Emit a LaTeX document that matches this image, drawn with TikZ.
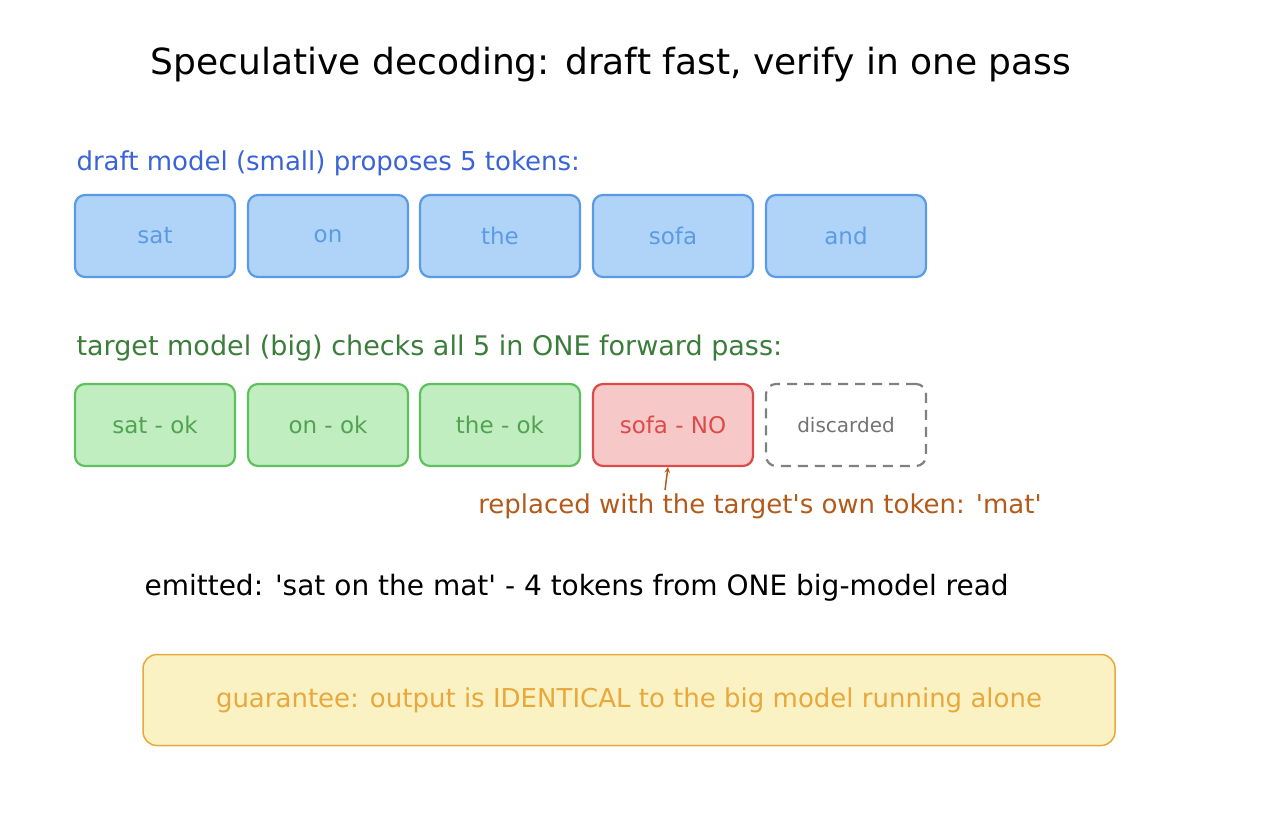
\documentclass[tikz,border=0pt]{standalone}
\usepackage{fontspec}
\setmainfont{DejaVu Sans}
\usetikzlibrary{positioning}
\definecolor{blueln}{HTML}{5B9BE6}
\definecolor{bluefl}{HTML}{B0D4F8}
\definecolor{bluetx}{HTML}{3A63D8}
\definecolor{greenln}{HTML}{5FC05F}
\definecolor{greenfl}{HTML}{C0EEC0}
\definecolor{greentx}{HTML}{3B7D3B}
\definecolor{redln}{HTML}{DE4A4A}
\definecolor{redfl}{HTML}{F7C8C8}
\definecolor{brown}{HTML}{B35A1A}
\definecolor{yellowln}{HTML}{E8A83C}
\definecolor{yellowfl}{HTML}{FBF2C4}
\newcommand{\sq}{\textquotesingle}
\tikzset{
  tok/.style={draw, line width=2.2pt, rounded corners=10pt, minimum width=160pt,
    minimum height=82pt, font=\fontsize{23}{27}\selectfont},
  lbl/.style={anchor=west, font=\fontsize{26}{30}\selectfont}
}
\begin{document}
\begin{tikzpicture}[x=1pt,y=1pt]
  \useasboundingbox (0,0) rectangle (1262,-812);

  \node (title) at (611,-65) {\fontsize{36}{42}\selectfont Speculative decoding: draft fast, verify in one pass};

  %% Draft row
  \node[lbl, text=bluetx] (draftlbl) at (73,-163) {draft model (small) proposes 5 tokens:};
  \foreach \x/\n/\t in {155/d1/sat, 328/d2/on, 500/d3/the, 673/d4/sofa, 846/d5/and}{
    \node[tok, draw=blueln, fill=bluefl, text=blueln] (\n) at (\x,-236) {\t};
  }

  %% Target row
  \node[lbl, text=greentx, font=\fontsize{27}{31}\selectfont] (targetlbl) at (73,-348) {target model (big) checks all 5 in ONE forward pass:};
  \foreach \x/\n/\t in {155/v1/sat - ok, 328/v2/on - ok, 500/v3/the - ok}{
    \node[tok, draw=greenln, fill=greenfl, text=greenln!85!black] (\n) at (\x,-425) {\t};
  }
  \node[tok, draw=redln, fill=redfl, text=redln] (v4) at (673,-425) {sofa - NO};
  \node[tok, draw=gray, dashed, dash pattern=on 10pt off 7pt, text=gray!90!black,
    font=\fontsize{20}{24}\selectfont] (v5) at (846,-425) {discarded};

  \node[text=brown, font=\fontsize{26}{30}\selectfont] (repl) at (760,-506)
    {replaced with the target\sq s own token: \sq mat\sq};
  \draw[brown, line width=1.5pt, -stealth] (665,-490) -- (v4.south -| 668,0);

  \node[lbl, font=\fontsize{28}{32}\selectfont] (emit) at (141,-588) {emitted: \sq sat on the mat\sq\ - 4 tokens from ONE big-model read};

  \node[draw=yellowln, fill=yellowfl, line width=1.5pt, rounded corners=14pt,
    minimum width=972pt, minimum height=91pt, text=yellowln,
    font=\fontsize{26}{30}\selectfont] (guar) at (629,-700)
    {guarantee: output is IDENTICAL to the big model running alone};
\end{tikzpicture}
\end{document}
